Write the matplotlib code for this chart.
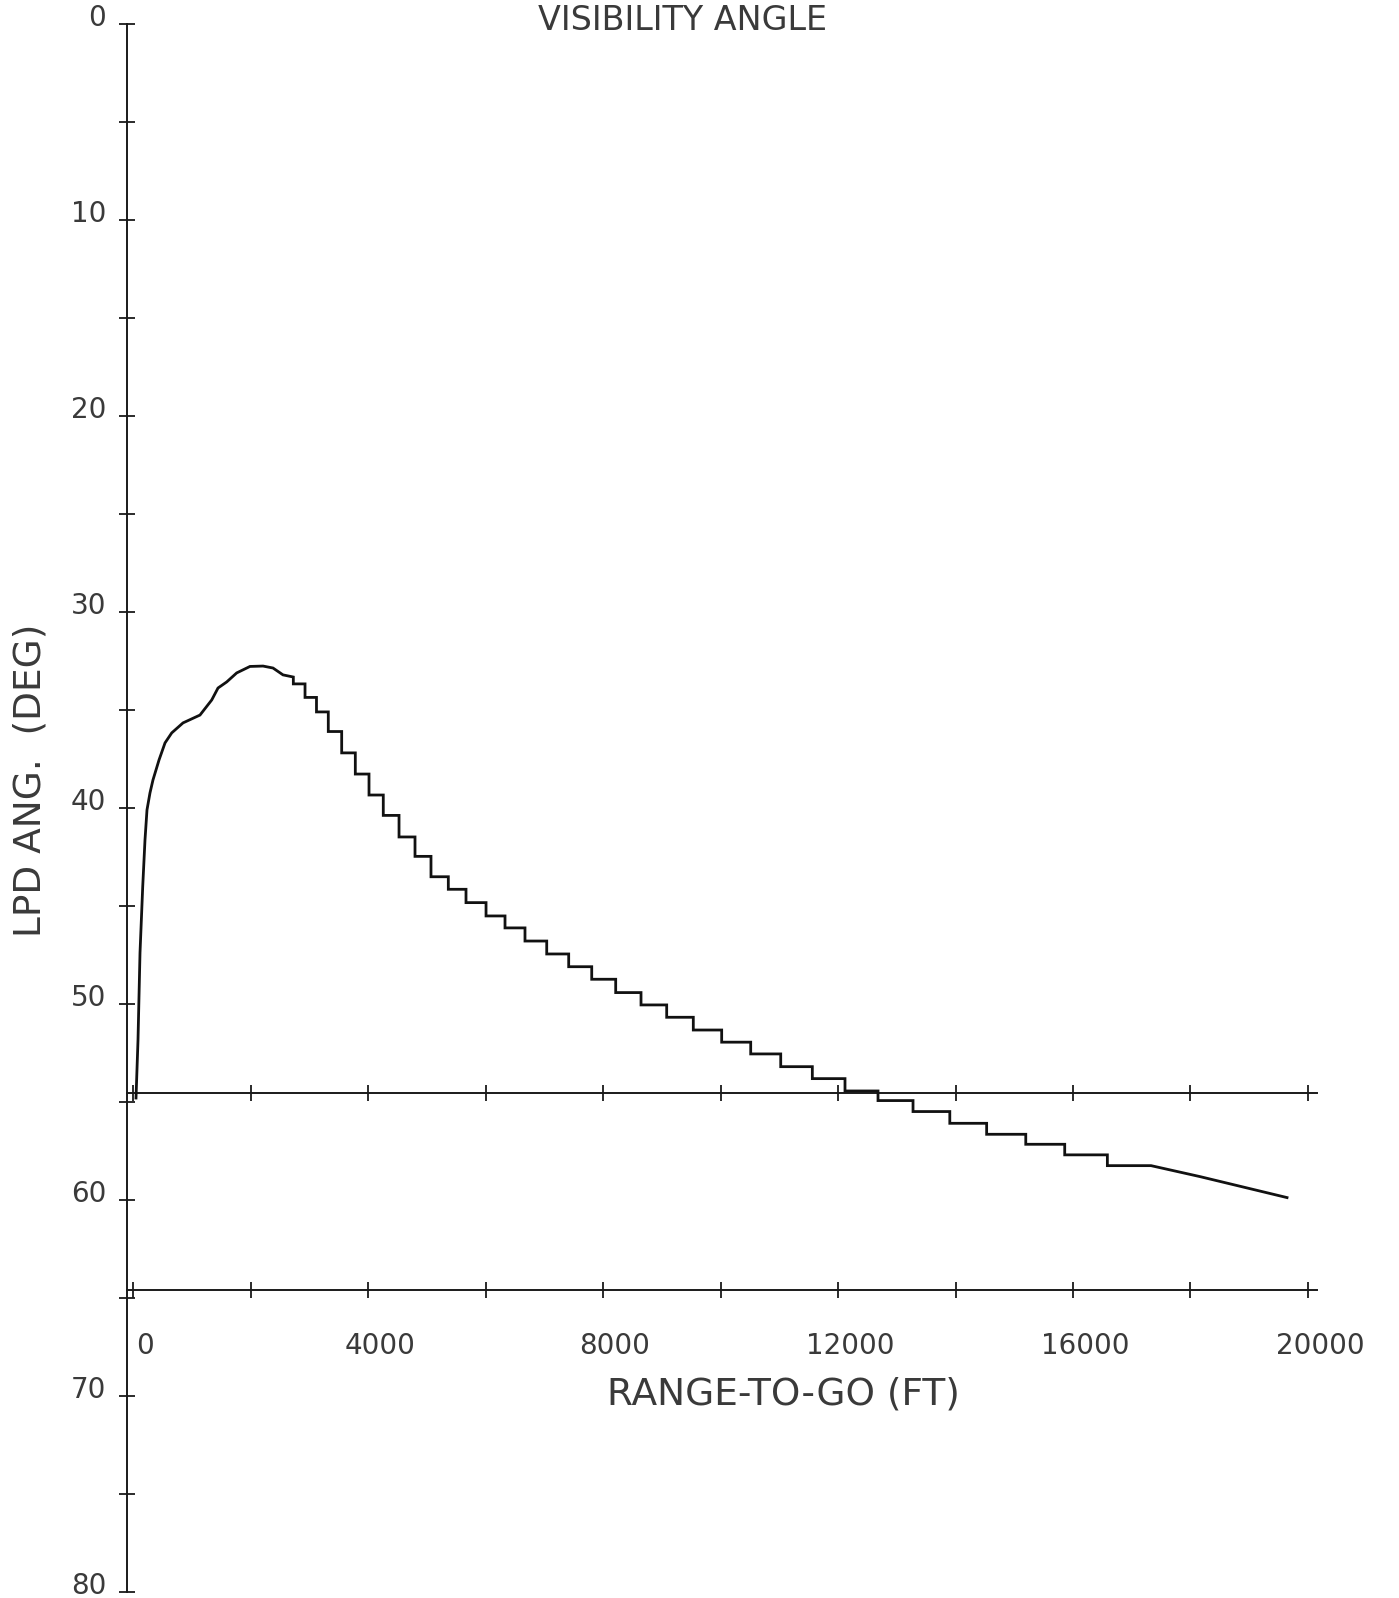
import matplotlib
matplotlib.use("Agg")
import matplotlib.pyplot as plt
from matplotlib.transforms import ScaledTranslation

# ---- data ----
title = "VISIBILITY ANGLE"
x_label = "RANGE-TO-GO (FT)"
y_label = "LPD ANG.  (DEG)"

y_major = [0, 10, 20, 30, 40, 50, 60, 70, 80]
y_minor = [5, 15, 25, 35, 45, 55, 65, 75]
x_ticks = [0, 2000, 4000, 6000, 8000, 10000, 12000, 14000, 16000, 18000, 20000]
x_labels = ["0", "", "4000", "", "8000", "", "12000", "", "16000", "", "20000"]

# smooth rising part of the curve
rise_ft = [51, 85, 119, 165, 204, 238, 289, 340, 443, 545, 659, 851, 1140,
           1340, 1447, 1595, 1765, 1991, 2213, 2383, 2553, 2729]
rise_deg = [54.80, 51.84, 47.40, 44.03, 41.63, 40.10, 39.23, 38.57, 37.55,
            36.68, 36.17, 35.66, 35.26, 34.49, 33.88, 33.57, 33.11, 32.78,
            32.76, 32.86, 33.21, 33.32]

# staircase part
step_edges_ft = [2729, 2928, 3123, 3324, 3552, 3784, 4017, 4260, 4528, 4800,
                 5072, 5367, 5668, 6009, 6332, 6672, 7042, 7416, 7808, 8216,
                 8647, 9084, 9537, 10020, 10514, 11025, 11563, 12119, 12681,
                 13277, 13903, 14530, 15196, 15859, 16585, 17328]
step_levels_deg = [33.67, 34.36, 35.10, 36.10, 37.19, 38.27, 39.34, 40.38,
                   41.48, 42.47, 43.51, 44.15, 44.83, 45.51, 46.12, 46.79,
                   47.45, 48.10, 48.74, 49.42, 50.05, 50.68, 51.33, 51.95,
                   52.55, 53.20, 53.81, 54.44, 54.93, 55.49, 56.09, 56.65,
                   57.16, 57.70, 58.25]

# final sloping part
tail_ft = [17328, 18162, 19643]
tail_deg = [58.25, 58.81, 59.88]

upper_line_deg = 54.55
lower_line_deg = 64.6
line_start_ft = -100
line_end_ft = 20150

# ---- figure ----
W, H = 1399, 1598
fig = plt.figure(figsize=(W / 100, H / 100), dpi=100)
fig.patch.set_facecolor("white")
ax = fig.add_axes([0, 0, 1, 1])
ax.set_facecolor("white")
ax.set_xlim(-2264, 21549)
ax.set_ylim(80.31, -1.224)

ink = "#1a1a1a"
txt = "#3a3a3a"

for s in ("top", "right"):
    ax.spines[s].set_visible(False)
ax.spines["left"].set_position(("data", -100))
ax.spines["left"].set_bounds(0, 80)
ax.spines["bottom"].set_position(("data", lower_line_deg))
ax.spines["bottom"].set_bounds(line_start_ft, line_end_ft)
for s in ("left", "bottom"):
    ax.spines[s].set_color(ink)
    ax.spines[s].set_linewidth(1.4)

ax.set_yticks(y_major)
ax.set_yticks(y_minor, minor=True)
ax.set_yticklabels([str(v) for v in y_major])
ax.set_xticks(x_ticks)
ax.set_xticklabels(x_labels)
ax.tick_params(axis="both", which="both", direction="inout", length=12,
               width=1.3, color=ink)
ax.tick_params(axis="y", which="major", labelsize=20, labelcolor=txt, pad=9)
ax.tick_params(axis="x", which="major", labelsize=20, labelcolor=txt, pad=24)

for lab in ax.get_xticklabels():
    lab.set_transform(lab.get_transform() + ScaledTranslation(12 / 100, 0, fig.dpi_scale_trans))
for lab in ax.get_yticklabels():
    lab.set_transform(lab.get_transform() + ScaledTranslation(0, 9 / 100, fig.dpi_scale_trans))

# upper horizontal line with its tick crosses
ax.plot([line_start_ft, line_end_ft], [upper_line_deg, upper_line_deg],
        color=ink, lw=1.4)
ax.plot(x_ticks, [upper_line_deg] * len(x_ticks), ls="none", marker="|",
        ms=12, mew=1.3, color=ink)

# curve
xs = list(rise_ft)
ys = list(rise_deg)
for i, lvl in enumerate(step_levels_deg):
    xs += [step_edges_ft[i], step_edges_ft[i + 1]]
    ys += [lvl, lvl]
xs += tail_ft
ys += tail_deg
ax.plot(xs, ys, color="#111111", lw=2.0, solid_joinstyle="miter")

# texts
fig.text(683 / W, 1 - 30 / H, title, ha="center", va="baseline",
         fontsize=24, color=txt)
fig.text(783 / W, 1 - 1394 / H, x_label, ha="center", va="center",
         fontsize=27, color=txt)
fig.text(31 / W, 1 - 780 / H, y_label, ha="center", va="center",
         rotation=90, fontsize=27, color=txt)

fig.savefig("out.png", dpi=100, facecolor="white")
